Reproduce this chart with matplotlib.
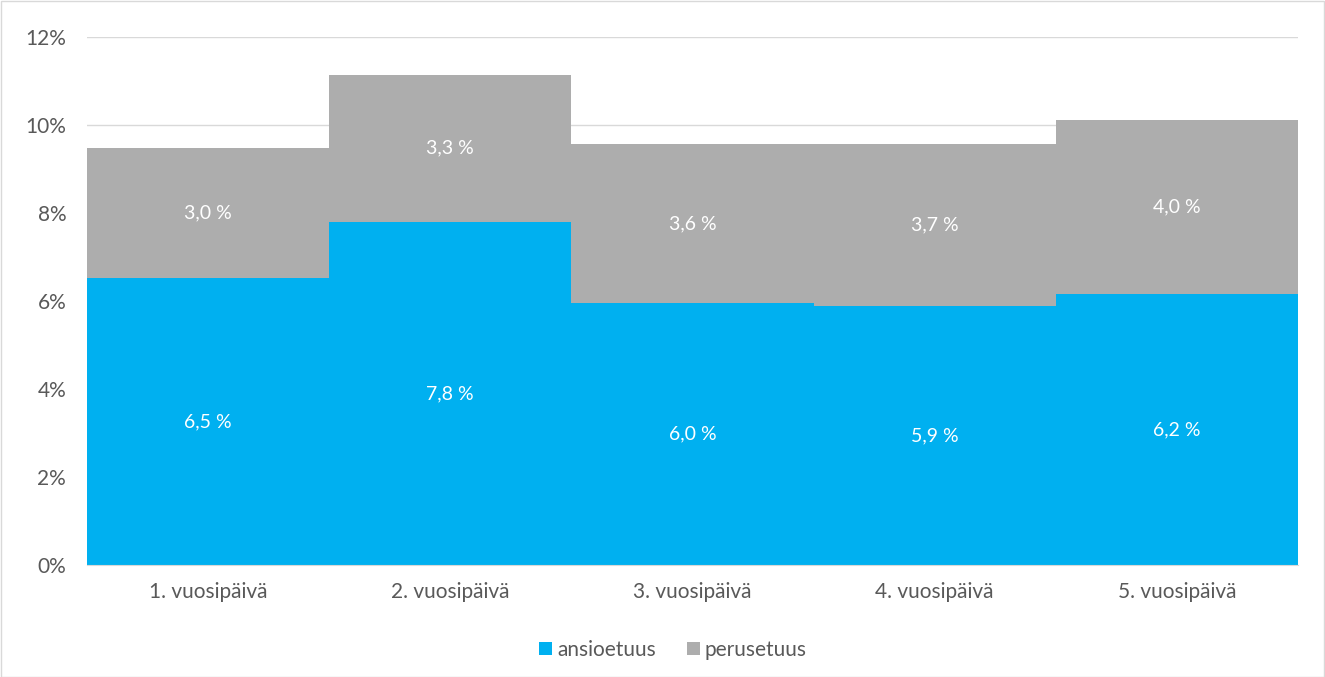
import matplotlib.pyplot as plt
from matplotlib.ticker import FuncFormatter

categories = ["1. vuosipäivä", "2. vuosipäivä", "3. vuosipäivä", "4. vuosipäivä", "5. vuosipäivä"]
ansioetuus = [6.52, 7.80, 5.96, 5.89, 6.16]
perusetuus = [2.96, 3.34, 3.60, 3.68, 3.96]

blue = "#00B0F0"
grey = "#ADADAD"
txt = "#595959"

plt.rcParams['font.family'] = ['Lato', 'DejaVu Sans']

fig = plt.figure(figsize=(13.25, 6.77), dpi=100)
ax = fig.add_axes([87 / 1325, 1 - 565 / 677, (1298 - 87) / 1325, (565 - 37) / 677])

x = list(range(len(categories)))
ax.bar(x, ansioetuus, width=1.0, color=blue, label="ansioetuus", zorder=2)
ax.bar(x, perusetuus, width=1.0, bottom=ansioetuus, color=grey, label="perusetuus", zorder=2)

for i in x:
    a = ansioetuus[i]
    p = perusetuus[i]
    ax.text(i, a / 2, f"{a:.1f} %".replace(".", ","), ha="center", va="center",
            color="white", fontsize=14)
    ax.text(i, a + p / 2, f"{p:.1f} %".replace(".", ","), ha="center", va="center",
            color="white", fontsize=14)

ax.set_xlim(-0.5, len(categories) - 0.5)
ax.set_ylim(0, 12)
ax.set_yticks(range(0, 13, 2))
ax.yaxis.set_major_formatter(FuncFormatter(lambda v, _: f"{v:.0f}%"))
ax.set_xticks(x)
ax.set_xticklabels(categories)
ax.tick_params(axis="both", length=0, colors=txt, labelsize=15)
ax.tick_params(axis="x", pad=12)
ax.tick_params(axis="y", pad=15)
ax.grid(axis="y", color="#D9D9D9", linewidth=1, zorder=0)
for s in ["top", "right", "left"]:
    ax.spines[s].set_visible(False)
ax.spines["bottom"].set_color("#D9D9D9")

leg = ax.legend(loc="upper center", bbox_to_anchor=(0.484, -0.106), ncol=2, frameon=False,
                fontsize=15, handlelength=0.6, handleheight=0.6, handletextpad=0.25,
                columnspacing=1.5)
for t in leg.get_texts():
    t.set_color(txt)

fig.patches.append(plt.Rectangle((0.5 / 1325, 0.5 / 677), 1 - 1.5 / 1325, 1 - 1.5 / 677,
                                 transform=fig.transFigure, fill=False,
                                 edgecolor="#D9D9D9", linewidth=1))

fig.savefig("out.png", dpi=100)
